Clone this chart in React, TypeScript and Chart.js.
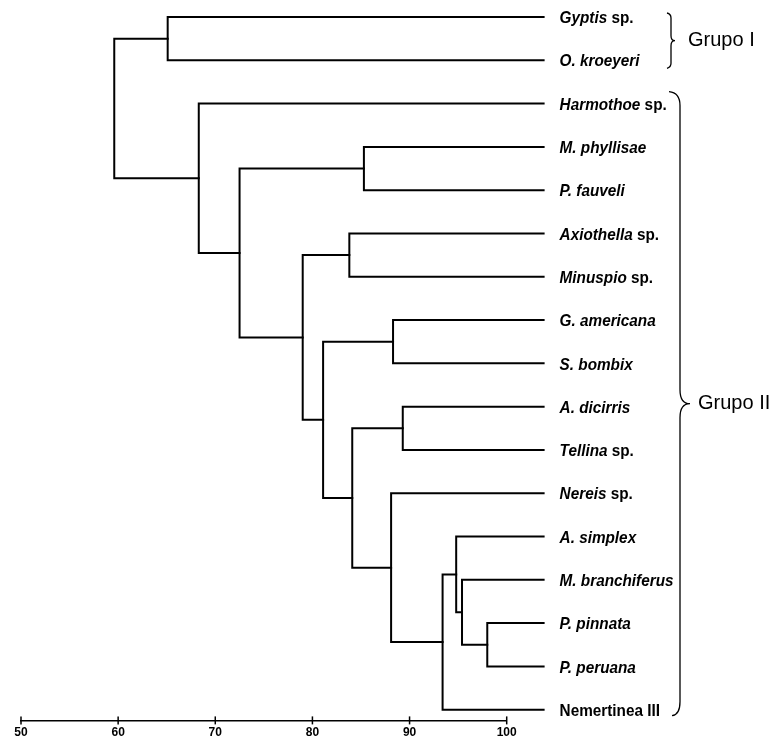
import React, { useEffect, useRef } from "react";
import { Chart, registerables } from "chart.js";

Chart.register(...registerables);

// Taxa from top to bottom: italic part and upright part of each label
const taxonItalic = [
  "Gyptis", "O. kroeyeri", "Harmothoe", "M. phyllisae", "P. fauveli",
  "Axiothella", "Minuspio", "G. americana", "S. bombix", "A. dicirris",
  "Tellina", "Nereis", "A. simplex", "M. branchiferus", "P. pinnata",
  "P. peruana", "",
];
const taxonPlain = [
  " sp.", "", " sp.", "", "",
  " sp.", " sp.", "", "", "",
  " sp.", " sp.", "", "", "",
  "", "Nemertinea III",
];

// Agglomeration steps: node ids < 17 are taxa, 17+k is the k-th merge
const mergeLeft = [14, 13, 12, 19, 11, 9, 22, 7, 24, 5, 26, 3, 28, 2, 0, 31];
const mergeRight = [15, 17, 18, 16, 20, 10, 21, 8, 23, 6, 25, 4, 27, 29, 1, 30];
const mergeLevel = [98.0, 95.4, 94.8, 93.4, 88.1, 89.3, 84.1, 88.3, 81.1, 83.8, 79.0, 85.3, 72.5, 68.3, 65.1, 59.6];

// Where the terminal branches end on the similarity scale
const leafLevel = 103.8;

// Similarity axis ticks
const axisTicks = [50, 60, 70, 80, 90, 100];

// Group braces
const groupNames = ["Grupo I", "Grupo II"];
const groupFirst = [0, 2];
const groupLast = [1, 16];

const LABEL_FONT = "'Liberation Sans', Arial, sans-serif";
const GROUP_FONT = "'Liberation Sans', Arial, sans-serif";
// condensed look for the taxon names
const LABEL_SQUEEZE = 0.9;

function buildSegments() {
  const nodeY: number[] = taxonItalic.map((_, i) => i);
  const nodeX: number[] = taxonItalic.map(() => leafLevel);
  const segs: { x: number; y: number }[][] = [];
  mergeLeft.forEach((l, k) => {
    const r = mergeRight[k];
    const h = mergeLevel[k];
    segs.push([
      { x: nodeX[l], y: nodeY[l] },
      { x: h, y: nodeY[l] },
      { x: h, y: nodeY[r] },
      { x: nodeX[r], y: nodeY[r] },
    ]);
    nodeY.push((nodeY[l] + nodeY[r]) / 2);
    nodeX.push(h);
  });
  return segs;
}

const tickMarks = {
  id: "tickMarks",
  afterDraw(chart: any) {
    const { ctx, scales } = chart;
    const xs = scales.x;
    const yb = chart.chartArea.bottom;
    ctx.save();
    ctx.strokeStyle = "#000";
    ctx.lineWidth = 1.5;
    axisTicks.forEach((v) => {
      const px = xs.getPixelForValue(v);
      ctx.beginPath();
      ctx.moveTo(px, yb - 4);
      ctx.lineTo(px, yb + 4);
      ctx.stroke();
    });
    ctx.restore();
  },
};

const taxonLabels = {
  id: "taxonLabels",
  afterDatasetsDraw(chart: any) {
    const { ctx, scales } = chart;
    const x0 = scales.x.getPixelForValue(leafLevel) + 16;
    ctx.save();
    ctx.fillStyle = "#000";
    ctx.textBaseline = "middle";
    ctx.textAlign = "left";
    taxonItalic.forEach((it, i) => {
      const y = scales.y.getPixelForValue(i) + 1.5;
      ctx.save();
      ctx.translate(x0, y);
      ctx.scale(LABEL_SQUEEZE, 1);
      let x = 0;
      if (it) {
        ctx.font = `italic bold 17px ${LABEL_FONT}`;
        ctx.fillText(it, x, 0);
        x += ctx.measureText(it).width;
      }
      if (taxonPlain[i]) {
        ctx.font = `bold 17px ${LABEL_FONT}`;
        ctx.fillText(taxonPlain[i], x, 0);
      }
      ctx.restore();
    });
    ctx.restore();
  },
};

const groupBraces = {
  id: "groupBraces",
  afterDatasetsDraw(chart: any) {
    const { ctx, scales } = chart;
    const ys = scales.y;
    ctx.save();
    ctx.strokeStyle = "#000";
    ctx.lineWidth = 1.3;
    ctx.fillStyle = "#000";
    ctx.font = `20px ${GROUP_FONT}`;
    ctx.textBaseline = "middle";
    ctx.textAlign = "left";
    groupNames.forEach((name, g) => {
      const big = groupLast[g] - groupFirst[g] > 2;
      const top = ys.getPixelForValue(groupFirst[g]) - (big ? 12 : 4);
      const bot = ys.getPixelForValue(groupLast[g]) + (big ? 6 : 8);
      const mid = (top + bot) / 2;
      const bx = big ? 680 : 671;
      const lx = big ? 669 : 667;
      const tip = big ? 10 : 4;
      const c = big ? 14 : 5;
      ctx.beginPath();
      ctx.moveTo(lx, top);
      ctx.quadraticCurveTo(bx, top + 1, bx, top + c);
      ctx.lineTo(bx, mid - c);
      ctx.quadraticCurveTo(bx, mid, bx + tip, mid);
      ctx.quadraticCurveTo(bx, mid, bx, mid + c);
      ctx.lineTo(bx, bot - c);
      ctx.quadraticCurveTo(bx, bot - 1, lx + (big ? 3 : 0), bot);
      ctx.stroke();
      ctx.fillText(name, bx + tip + (big ? 8 : 13), mid);
    });
    ctx.restore();
  },
};

export default function App() {
  const ref = useRef<HTMLCanvasElement | null>(null);

  useEffect(() => {
    if (!ref.current) return;
    const segs = buildSegments();
    const chart = new Chart(ref.current, {
      type: "scatter",
      data: {
        datasets: segs.map((s) => ({
          data: s,
          showLine: true,
          pointRadius: 0,
          borderColor: "#000",
          borderWidth: 2,
          borderJoinStyle: "miter" as const,
          borderCapStyle: "square" as const,
          tension: 0,
          clip: false as any,
        })),
      },
      options: {
        animation: false,
        responsive: true,
        maintainAspectRatio: false,
        devicePixelRatio: 1,
        layout: { padding: { left: 21, right: 271.3, top: 8.34, bottom: 4.2 } },
        plugins: { legend: { display: false }, tooltip: { enabled: false } },
        events: [],
        scales: {
          x: {
            type: "linear",
            position: "bottom",
            min: 50,
            max: 100,
            afterBuildTicks: (s: any) => {
              s.ticks = axisTicks.map((v) => ({ value: v }));
            },
            grid: { display: true, drawOnChartArea: false, drawTicks: false },
            border: { display: true, color: "#000", width: 1.5 },
            ticks: {
              padding: 5,
              color: "#000",
              maxRotation: 0,
              font: { family: LABEL_FONT, size: 12, weight: "bold" },
            },
          },
          y: {
            type: "linear",
            reverse: true,
            min: -0.2,
            max: 16.247,
            display: false,
          },
        },
      },
      plugins: [tickMarks, taxonLabels, groupBraces],
    });
    return () => chart.destroy();
  }, []);

  return (
    <div style={{ position: "fixed", left: 0, top: 0, width: 778, height: 749, background: "#fff" }}>
      <canvas ref={ref} />
    </div>
  );
}
